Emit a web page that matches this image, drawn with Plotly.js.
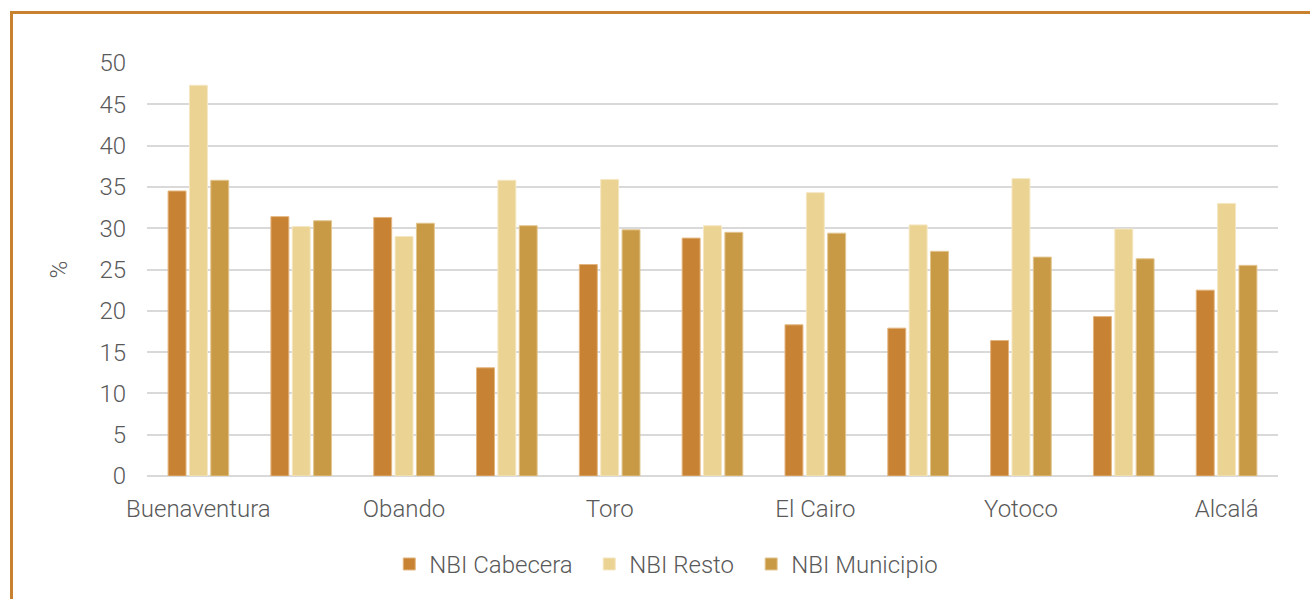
<!DOCTYPE html>
<html>
<head>
<meta charset="utf-8">
<script src="https://cdn.plot.ly/plotly-3.0.1.min.js"></script>
<style>
  html, body { margin: 0; padding: 0; background: #ffffff; overflow: hidden; }
  #frame { position: absolute; left: 10px; top: 11px; width: 1400px; height: 700px;
           border-left: 3px solid #C8822F; border-top: 3px solid #C8822F; box-sizing: border-box; }
  #chart { position: absolute; left: 0; top: 0; width: 1310px; height: 599px; }
</style>
</head>
<body>
<div id="chart"></div>
<div id="frame"></div>
<script>
// Categories (only every other label is shown in the reference)
const categories = ["Buenaventura", "", "Obando", "", "Toro", "", "El Cairo", "", "Yotoco", "", "Alcalá"];
const seriesNames = ["NBI Cabecera", "NBI Resto", "NBI Municipio"];
const nbiCabecera  = [34.5, 31.4, 31.3, 13.1, 25.6, 28.8, 18.3, 17.9, 16.4, 19.3, 22.5];
const nbiResto     = [47.3, 30.2, 29.0, 35.8, 35.9, 30.3, 34.3, 30.4, 36.0, 29.9, 33.0];
const nbiMunicipio = [35.8, 30.9, 30.6, 30.3, 29.8, 29.5, 29.4, 27.2, 26.5, 26.3, 25.5];
const yTicks = [0, 5, 10, 15, 20, 25, 30, 35, 40, 45, 50];

const colors = ["#C78233", "#EBD394", "#C99A45"];
const lineColors = ["#E3B57F", "#F5E7C2", "#E2C58F"];
const legendIds = ["legend", "legend2", "legend3"];
const legendX = [0.2142, 0.3910, 0.5342];
const xIdx = categories.map((c, i) => i);
const shownVals = xIdx.filter(i => categories[i] !== "");
const shownText = shownVals.map(i => categories[i]);

const data = [nbiCabecera, nbiResto, nbiMunicipio].map((vals, k) => ({
  type: "bar",
  name: seriesNames[k],
  x: xIdx,
  y: vals,
  legend: legendIds[k],
  marker: { color: colors[k], line: { color: lineColors[k], width: 1 } },
  hoverinfo: "x+y+name"
}));

const font = { family: "Roboto, 'Open Sans', sans-serif", color: "#595959", size: 24, weight: 300 };

const layout = {
  width: 1310, height: 599,
  margin: { l: 147, r: 32, t: 63, b: 120 },
  paper_bgcolor: "#ffffff",
  plot_bgcolor: "#ffffff",
  barmode: "group",
  bargap: 0.377,
  bargroupgap: 0.16,
  font: font,
  showlegend: true,
  xaxis: {
    type: "linear",
    range: [-0.5, categories.length - 0.5],
    tickmode: "array", tickvals: shownVals, ticktext: shownText,
    ticks: "", showgrid: false, zeroline: false, showline: false,
    tickfont: font, ticklabelstandoff: 16, fixedrange: true
  },
  yaxis: {
    range: [0, 50],
    tickmode: "array", tickvals: yTicks,
    showgrid: true, gridcolor: "#D9D9D9", gridwidth: 2,
    zeroline: true, zerolinecolor: "#D9D9D9", zerolinewidth: 2,
    showline: false, ticks: "",
    tickfont: font, ticklabelstandoff: 20,
    title: { text: "%", font: font, standoff: 24 },
    fixedrange: true
  }
};
legendIds.forEach((id, k) => {
  layout[id] = {
    orientation: "h", x: legendX[k], xanchor: "left", y: -0.214, yanchor: "middle",
    font: font, itemwidth: 30, bgcolor: "rgba(0,0,0,0)"
  };
});

Plotly.newPlot("chart", data, layout, { displayModeBar: false, staticPlot: true });
</script>
</body>
</html>
